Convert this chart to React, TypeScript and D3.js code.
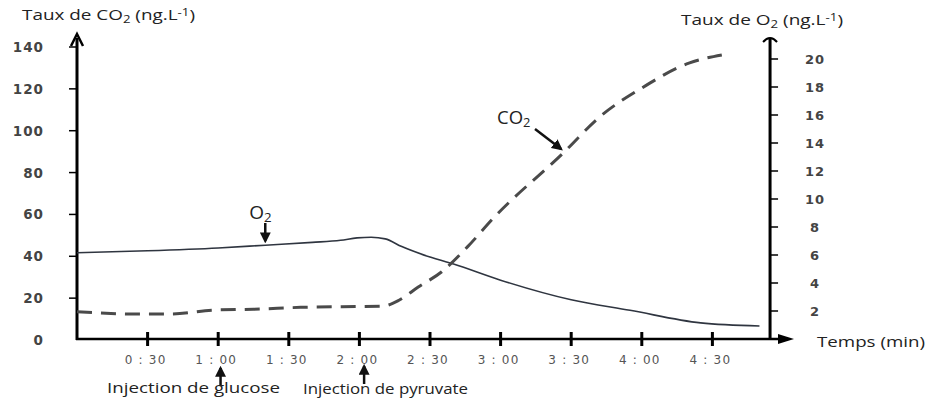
import React from 'react';
import * as d3 from 'd3';

// temps en minutes
const o2Times = [0, 30, 60, 80, 100, 112, 119, 125, 131, 138, 150, 160, 180, 210, 235, 265, 290];
const o2Values = [6.16, 6.3, 6.5, 6.7, 6.9, 7.05, 7.22, 7.27, 7.15, 6.6, 5.85, 5.35, 4.2, 2.8, 2.05, 1.15, 0.93];

const co2Times = [0, 25, 40, 58, 75, 95, 130, 137, 145, 155, 166, 177, 207, 222, 240, 260, 274];
const co2Values = [13.5, 12.4, 12.4, 14.3, 14.7, 15.6, 16.2, 19.1, 25.3, 32.6, 44.6, 58.3, 89.8, 106.5, 120.4, 132.3, 136.2];

const co2Ticks = [0, 20, 40, 60, 80, 100, 120, 140];
const o2Ticks = [2, 4, 6, 8, 10, 12, 14, 16, 18, 20];
const timeTicks = [30, 60, 90, 120, 150, 180, 210, 240, 270];
const timeLabels = ['0 : 30', '1 : 00', '1 : 30', '2 : 00', '2 : 30', '3 : 00', '3 : 30', '4 : 00', '4 : 30'];

const W = 927;
const H = 400;

const x = d3.scaleLinear().domain([0, 300]).range([77, 783]);
const yCo2 = d3.scaleLinear().domain([0, 140]).range([340, 47]);
const yO2 = d3.scaleLinear().domain([0, 20]).range([339, 59]);

const rightAxisX = x(294.5);
const axisY = 339;
const axisTop = 38;

const o2Line = d3.line<number>()
  .x((_, i) => x(o2Times[i]))
  .y(d => yO2(d))
  .curve(d3.curveMonotoneX);

const co2Line = d3.line<number>()
  .x((_, i) => x(co2Times[i]))
  .y(d => yCo2(d))
  .curve(d3.curveMonotoneX);

const tickFont = '"DejaVu Sans", sans-serif';
const labelFont = '"Open Sans", sans-serif';

const Sub = ({ children }: { children: React.ReactNode }) => (
  <tspan fontSize="0.7em" dy="3">{children}</tspan>
);

export default function App() {
  const o2Tip = { x: x(80), y: yO2(6.7) };
  const co2Tip = { x: x(207), y: yCo2(89.8) };
  const gluX = x(61);
  const pyrX = x(122);

  return (
    <svg width={W} height={H} style={{ position: 'absolute', left: 0, top: 0, background: '#fff' }}>
      <defs>
        <marker id="head" viewBox="0 0 10 10" refX="8" refY="5" markerWidth="4.4" markerHeight="4.4" orient="auto">
          <path d="M0,0 L10,5 L0,10 z" fill="#111" />
        </marker>
      </defs>

      {/* titres */}
      <text x={22} y={20} fontFamily={labelFont} fontSize={14.5} fill="#222" textLength={173} lengthAdjust="spacingAndGlyphs">
        Taux de CO<Sub>2</Sub><tspan dy="-3"> (ng.L</tspan><tspan fontSize="0.7em" dy="-4">-1</tspan><tspan dy="4">)</tspan>
      </text>
      <text x={681} y={25} fontFamily={labelFont} fontSize={14.5} fill="#222" textLength={162} lengthAdjust="spacingAndGlyphs">
        Taux de O<Sub>2</Sub><tspan dy="-3"> (ng.L</tspan><tspan fontSize="0.7em" dy="-4">-1</tspan><tspan dy="4">)</tspan>
      </text>
      <text x={817} y={347} fontFamily={labelFont} fontSize={14.5} fill="#222" textLength={108} lengthAdjust="spacingAndGlyphs">
        Temps (min)
      </text>

      {/* axe gauche */}
      <line x1={77} x2={77} y1={axisY + 1} y2={axisTop} stroke="#000" strokeWidth={3} />
      <path d={`M71,${axisTop + 8} L77,${axisTop - 4} L83,${axisTop + 8}`} fill="none" stroke="#000" strokeWidth={2.5} />
      {co2Ticks.map(t => (
        <g key={t}>
          {t > 0 && <line x1={69} x2={77} y1={yCo2(t)} y2={yCo2(t)} stroke="#000" strokeWidth={1.5} />}
          <text x={44} y={yCo2(t) + 5} textAnchor="end" fontFamily={tickFont} fontSize={13.5} fontWeight="bold"
            fill="#444" letterSpacing={1}>{t}</text>
        </g>
      ))}

      {/* axe droit */}
      <line x1={rightAxisX} x2={rightAxisX} y1={axisY} y2={axisTop} stroke="#000" strokeWidth={3} />
      <path d={`M${rightAxisX - 7},${axisTop + 4} Q${rightAxisX},${axisTop - 4} ${rightAxisX + 7},${axisTop + 4}`}
        fill="none" stroke="#000" strokeWidth={2} />
      {o2Ticks.map(t => (
        <g key={t}>
          <line x1={rightAxisX} x2={rightAxisX + 8} y1={yO2(t)} y2={yO2(t)} stroke="#000" strokeWidth={1.5} />
          <text x={815} y={yO2(t) + 5} textAnchor="middle" fontFamily={tickFont} fontSize={13} fontWeight="bold"
            fill="#444" letterSpacing={1}>{t}</text>
        </g>
      ))}

      {/* axe du temps */}
      <line x1={76} x2={788} y1={axisY} y2={axisY} stroke="#000" strokeWidth={2.5} />
      <path d={`M778,${axisY - 5} L794,${axisY} L778,${axisY + 5} z`} fill="#000" />
      {timeTicks.map((t, i) => (
        <g key={t}>
          <line x1={x(t)} x2={x(t)} y1={axisY - 7} y2={axisY + 7} stroke="#000" strokeWidth={3} />
          <text x={x(t) - 2} y={364} textAnchor="middle" fontFamily={tickFont} fontSize={12} fill="#555"
            letterSpacing={1.2}>{timeLabels[i]}</text>
        </g>
      ))}

      {/* courbes */}
      <path d={o2Line(o2Values) ?? ''} fill="none" stroke="#2f3540" strokeWidth={1.6} />
      <path d={co2Line(co2Values) ?? ''} fill="none" stroke="#4a4a4a" strokeWidth={3} strokeDasharray="15 9" />

      {/* annotations */}
      <text x={o2Tip.x - 16} y={219} fontFamily={labelFont} fontSize={19} fill="#222">
        O<Sub>2</Sub>
      </text>
      <line x1={o2Tip.x} x2={o2Tip.x} y1={223} y2={o2Tip.y - 4} stroke="#111" strokeWidth={2.5} markerEnd="url(#head)" />

      <text x={497} y={124} fontFamily={labelFont} fontSize={18.5} fill="#222">
        CO<Sub>2</Sub>
      </text>
      <line x1={535} x2={co2Tip.x - 3} y1={129} y2={co2Tip.y - 3} stroke="#111" strokeWidth={2.5} markerEnd="url(#head)" />

      <line x1={gluX} x2={gluX} y1={386} y2={368} stroke="#111" strokeWidth={2.5} markerEnd="url(#head)" />
      <text x={107} y={393} fontFamily={labelFont} fontSize={14.5} fill="#222" textLength={173} lengthAdjust="spacingAndGlyphs">
        Injection de glucose
      </text>
      <line x1={pyrX} x2={pyrX} y1={384} y2={366} stroke="#111" strokeWidth={2.5} markerEnd="url(#head)" />
      <text x={303} y={394} fontFamily={labelFont} fontSize={14.5} fill="#222" textLength={165} lengthAdjust="spacingAndGlyphs">
        Injection de pyruvate
      </text>
    </svg>
  );
}
